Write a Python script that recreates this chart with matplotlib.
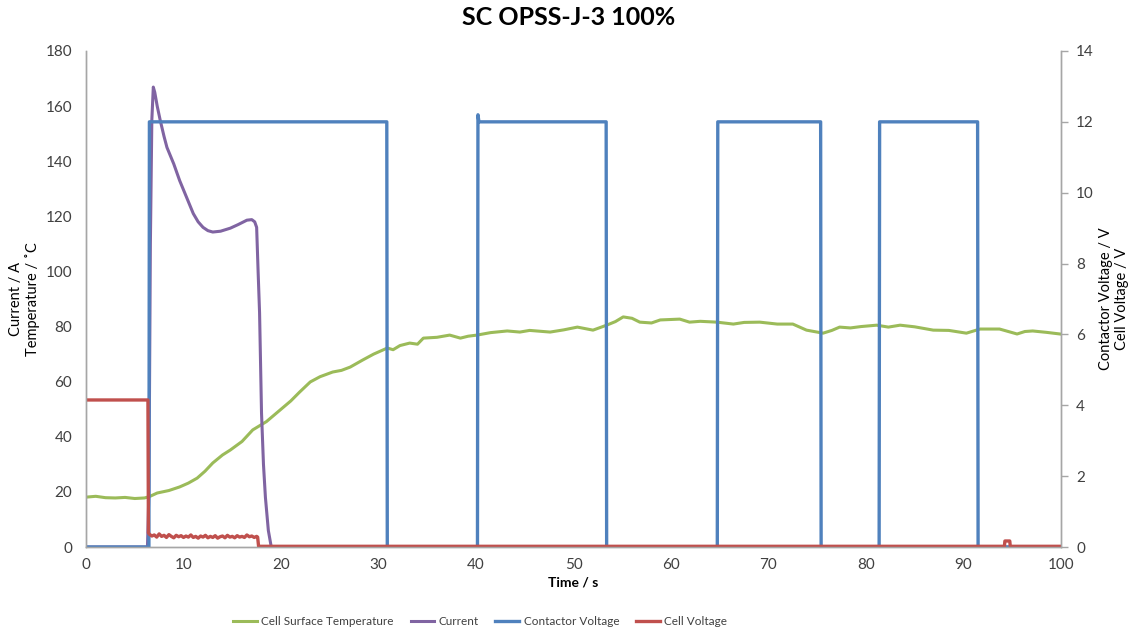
import matplotlib
matplotlib.use('Agg')
import matplotlib.pyplot as plt


# Cell surface temperature (deg C) against time (s)
time_temp = [0, 1, 2, 3, 4, 5, 6, 6.5, 7.3, 8.5, 9.6, 10.5, 11.4, 12.2, 13.0, 14.0, 14.8,
             16.0, 17.1, 18.5, 19.9, 21.0, 21.9, 23.0, 24.0, 25.3, 26.2, 27.1, 28.4, 29.5,
             30.9, 31.5, 32.2, 33.2, 34.0, 34.6, 36.0, 37.3, 38.4, 39.2, 40.1, 41.5, 43.2,
             44.5, 45.5, 47.6, 49.0, 50.4, 52.0, 53.4, 54.3, 55.1, 56.0, 56.8, 58.0, 58.9,
             60.9, 61.9, 63.0, 64.7, 66.4, 67.5, 69.1, 70.9, 72.5, 73.9, 75.6, 76.5, 77.3,
             78.4, 79.5, 81.1, 82.3, 83.5, 85.0, 86.9, 88.5, 90.3, 91.7, 93.7, 94.6, 95.5,
             96.3, 97.1, 98.5, 99.9]
temperature = [18.1, 18.4, 17.9, 17.8, 18.0, 17.6, 17.8, 18.3, 19.6, 20.5, 21.8, 23.2, 25.0,
               27.5, 30.5, 33.4, 35.2, 38.3, 42.5, 45.5, 49.7, 53.0, 56.2, 59.9, 61.8, 63.5,
               64.1, 65.3, 67.9, 70.0, 72.2, 71.6, 73.1, 74.0, 73.6, 75.8, 76.1, 76.9, 75.8,
               76.5, 76.9, 77.8, 78.4, 78.0, 78.6, 78.0, 78.8, 79.8, 78.7, 80.5, 81.8, 83.5,
               83.0, 81.6, 81.3, 82.4, 82.7, 81.6, 81.9, 81.6, 80.9, 81.5, 81.6, 80.9, 80.9,
               78.7, 77.6, 78.6, 79.8, 79.5, 80.0, 80.5, 79.8, 80.5, 79.9, 78.7, 78.6, 77.6,
               79.1, 79.1, 78.2, 77.3, 78.2, 78.4, 77.9, 77.3]

# Current (A)
time_current = [0, 6.3, 6.45, 6.6, 6.75, 6.9, 7.05, 7.3, 7.6, 8.0, 8.3, 9.0, 9.6, 10.3, 11.0,
                11.5, 12.0, 12.5, 13.0, 13.8, 14.8, 15.6, 16.5, 17.0, 17.3, 17.5, 17.65, 17.8,
                18.0, 18.2, 18.4, 18.7, 19.0, 100]
current = [0, 0, 20, 110, 155, 166.9, 165, 160, 155, 149, 145, 139, 133, 127, 121, 118, 116,
           114.8, 114.3, 114.6, 115.7, 117.0, 118.6, 118.8, 118.0, 116, 100, 85, 48.6, 30,
           18, 6, 0, 0]

# Contactor voltage (V)
time_contactor = [0, 6.45, 6.5, 30.85, 30.9, 40.15, 40.2, 40.3, 53.35, 53.4, 64.75, 64.8,
                  75.35, 75.4, 81.35, 81.4, 91.45, 91.5, 100]
contactor_voltage = [0, 0, 12, 12, 0, 0, 12.2, 12, 12, 0, 0, 12, 12, 0, 0, 12, 12, 0, 0]

# Cell voltage (V)
time_cell = [0, 6.35, 6.4, 6.5, 6.75, 7.0, 7.25, 7.5, 7.75, 8.0, 8.25, 8.5, 8.75, 9.0, 9.25,
             9.5, 9.75, 10.0, 10.25, 10.5, 10.75, 11.0, 11.25, 11.5, 11.75, 12.0, 12.25,
             12.5, 12.75, 13.0, 13.25, 13.5, 13.75, 14.0, 14.25, 14.5, 14.75, 15.0, 15.25,
             15.5, 15.75, 16.0, 16.25, 16.5, 16.75, 17.0, 17.25, 17.5, 17.6, 17.7, 94.2,
             94.25, 94.75, 94.8, 100]
cell_voltage = [4.15, 4.15, 0.4, 0.36, 0.31, 0.34, 0.28, 0.37, 0.3, 0.33, 0.27, 0.35, 0.3,
                0.26, 0.33, 0.29, 0.32, 0.27, 0.31, 0.28, 0.34, 0.27, 0.3, 0.25, 0.31, 0.28,
                0.33, 0.26, 0.3, 0.27, 0.32, 0.25, 0.29, 0.31, 0.26, 0.33, 0.28, 0.3, 0.26,
                0.32, 0.28, 0.3, 0.27, 0.34, 0.29, 0.31, 0.27, 0.3, 0.28, 0.02, 0.02, 0.17,
                0.17, 0.02, 0.02]

green = '#9BBB59'
purple = '#8064A2'
blue = '#4F81BD'
red = '#C0504D'
grey_text = '#404040'

plt.rcParams['font.family'] = ['Lato', 'DejaVu Sans']

fig = plt.figure(figsize=(11.38, 6.34), dpi=100)
ax = fig.add_axes([0.0756, 0.1372, 0.8567, 0.7824])
ax2 = ax.twinx()

l1, = ax.plot(time_temp, temperature, color=green, lw=2.2, label='Cell Surface Temperature')
l2, = ax.plot(time_current, current, color=purple, lw=2.2, label='Current')
l3, = ax2.plot(time_contactor, contactor_voltage, color=blue, lw=2.4, label='Contactor Voltage')
l4, = ax2.plot(time_cell, cell_voltage, color=red, lw=2.4, label='Cell Voltage')

ax.set_xlim(0, 100)
ax.set_ylim(0, 180)
ax2.set_ylim(0, 14)
ax.set_xticks(range(0, 101, 10))
ax.set_yticks(range(0, 181, 20))
ax2.set_yticks(range(0, 15, 2))

for a in (ax, ax2):
    a.spines['top'].set_visible(False)
    for s in ('left', 'right', 'bottom'):
        a.spines[s].set_color('#A6A6A6')
        a.spines[s].set_linewidth(1.0)

ax.tick_params(axis='x', length=0, pad=8, labelsize=11, colors=grey_text)
ax.tick_params(axis='y', length=0, pad=10, labelsize=11, colors=grey_text)
ax2.tick_params(axis='y', length=5, width=1, color='#A6A6A6', pad=6, labelsize=11,
                labelcolor=grey_text)

ax.set_xlabel('Time / s', fontsize=10, fontweight='bold', labelpad=3)
ax.set_ylabel('Current / A\nTemperature / ˚C', fontsize=10.5)
ax.yaxis.set_label_coords(-0.047, 0.5)
ax2.set_ylabel('Contactor Voltage / V\nCell Voltage / V', fontsize=10.5)
ax2.yaxis.set_label_coords(1.039, 0.5)

fig.suptitle('SC OPSS-J-3 100%', fontsize=18, fontweight='bold', y=0.99)

fig.legend(handles=[l1, l2, l3, l4], loc='center', bbox_to_anchor=(0.422, 0.02), ncol=4,
           frameon=False, fontsize=8.5, handlelength=2.0, handletextpad=0.4,
           columnspacing=1.4, labelcolor=grey_text)

fig.savefig('out.png', dpi=100)
